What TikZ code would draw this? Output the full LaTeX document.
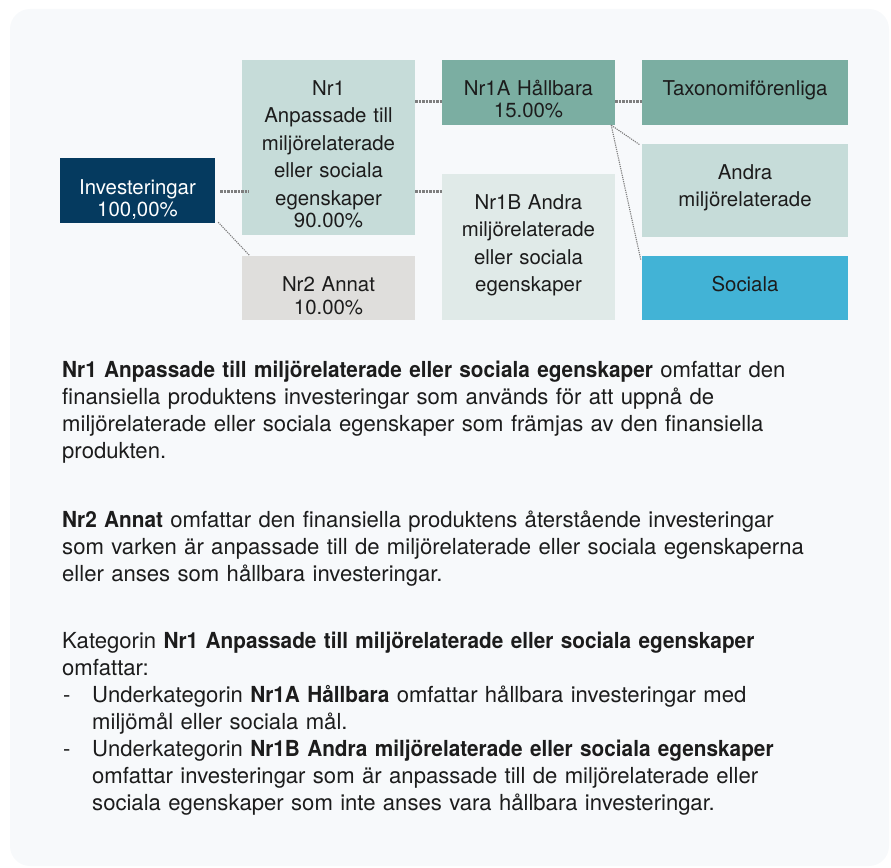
\documentclass[tikz,border=0pt]{standalone}
\usepackage{fontspec}
\setmainfont{TeX Gyre Heros}[BoldFeatures={FakeStretch=0.94}]
\usetikzlibrary{calc}
\definecolor{esgnavy}{HTML}{053A5F}
\definecolor{esgsage}{HTML}{7BAEA2}
\definecolor{esgmint}{HTML}{C6DCD9}
\definecolor{esgpale}{HTML}{E0EAE8}
\definecolor{esggray}{HTML}{DFDEDC}
\definecolor{esgsky}{HTML}{42B3D6}
\definecolor{esgpanel}{HTML}{F7F9FB}
\definecolor{esglink}{HTML}{7E7E7E}
\definecolor{esgtext}{HTML}{1C1C1C}

\begin{document}
\begin{tikzpicture}[x=1pt, y=-1pt,
    every node/.style={inner sep=0pt, text=esgtext},
    box/.style={rectangle, align=center, font={\fontsize{20.4}{27.5}\selectfont}},
    txtraise/.style={text height=#1, text depth=0pt},
    txtdrop/.style={text height=0pt, text depth=#1},
    bodytext/.style={anchor=base west, align=left, text width=820pt,
      font={\fontsize{22.1}{27}\selectfont}},
    conthick/.style={draw=esglink, line width=3pt, dash pattern=on 2.5pt off 1pt},
    conthin/.style={draw=esglink, line width=1.1pt, dash pattern=on 1.2pt off 1pt}]
  \useasboundingbox (0,0) rectangle (891,867);
  \fill[esgpanel, rounded corners=20pt] (10,9) rectangle (889,866);

  % boxes of the tree
  \node[box, fill=esgnavy, text=white, minimum width=155pt, minimum height=65pt,
        text width=145pt, txtraise=7pt] (inv) at (137.5,190.5) {Investeringar\\[-5pt]100,00\%};
  \node[box, fill=esgmint, minimum width=173pt, minimum height=175pt,
        text width=163pt, txtdrop=105pt] (nr1) at (328.5,147.5)
        {Nr1\\Anpassade till\\miljörelaterade\\eller sociala\\egenskaper\\[-5pt]90.00\%};
  \node[box, fill=esggray, minimum width=173pt, minimum height=64pt,
        text width=163pt, txtraise=7.4pt] (nr2) at (328.5,288) {Nr2 Annat\\[-5pt]10.00\%};
  \node[box, fill=esgsage, minimum width=173pt, minimum height=65pt,
        text width=163pt, txtraise=5pt] (nr1a) at (528.5,92.5) {Nr1A Hållbara\\[-5pt]15.00\%};
  \node[box, fill=esgpale, minimum width=173pt, minimum height=146pt,
        text width=163pt, txtdrop=76pt] (nr1b) at (528.5,247)
        {Nr1B Andra\\miljörelaterade\\eller sociala\\egenskaper};
  \node[box, fill=esgsage, minimum width=206pt, minimum height=65pt,
        text width=196pt, txtraise=5pt] (tax) at (745,92.5) {Taxonomiförenliga};
  \node[box, fill=esgmint, minimum width=206pt, minimum height=93pt,
        text width=196pt, txtdrop=23pt] (andra) at (745,190.5) {Andra\\miljörelaterade};
  \node[box, fill=esgsky, minimum width=206pt, minimum height=64pt,
        text width=196pt, txtraise=7.4pt] (soc) at (745,288) {Sociala};

  % dotted links
  \coordinate (rowa) at (0,101);
  \coordinate (rowb) at (0,191);
  \draw[conthick] ($(inv.east |- rowb)+(5,0)$) -- ($(nr1.west |- rowb)+(7,0)$);
  \draw[conthin] ($(inv.south east)+(3,-1)$) -- ($(nr2.north west)+(8,0)$);
  \draw[conthick] (nr1.east |- rowa) -- (nr1a.west |- rowa);
  \draw[conthick] (nr1.east |- rowb) -- (nr1b.west |- rowb);
  \draw[conthick] (nr1a.east |- rowa) -- (tax.west |- rowa);
  \draw[conthin] ($(nr1a.south east)+(-4,0)$) -- ($(andra.north west)+(-2,1)$);
  \draw[conthin] ($(nr1a.south east)+(-4,0)$) -- ($(soc.north west)+(-1,4)$);

  % explanation below
  \node[bodytext] (descnr1) at (62,377)
    {\textbf{Nr1 Anpassade till miljörelaterade eller sociala egenskaper} omfattar den\\
     finansiella produktens investeringar som används för att uppnå de\\
     miljörelaterade eller sociala egenskaper som främjas av den finansiella\\
     produkten.};
  \node[bodytext] (descnr2) at (62,527)
    {\textbf{Nr2 Annat} omfattar den finansiella produktens återstående investeringar\\
     som varken är anpassade till de miljörelaterade eller sociala egenskaperna\\
     eller anses som hållbara investeringar.};
  \node[bodytext] (desckat) at (62,648)
    {Kategorin \textbf{Nr1 Anpassade till miljörelaterade eller sociala egenskaper}\\
     omfattar:};
  \node[bodytext] (dasha) at (63,702) {-};
  \node[bodytext] (itema) at (92,702)
    {Underkategorin \textbf{Nr1A Hållbara} omfattar hållbara investeringar med\\
     miljömål eller sociala mål.};
  \node[bodytext] (dashb) at (63,756) {-};
  \node[bodytext] (itemb) at (92,756)
    {Underkategorin \textbf{Nr1B Andra miljörelaterade eller sociala egenskaper}\\
     omfattar investeringar som är anpassade till de miljörelaterade eller\\
     sociala egenskaper som inte anses vara hållbara investeringar.};
\end{tikzpicture}
\end{document}
